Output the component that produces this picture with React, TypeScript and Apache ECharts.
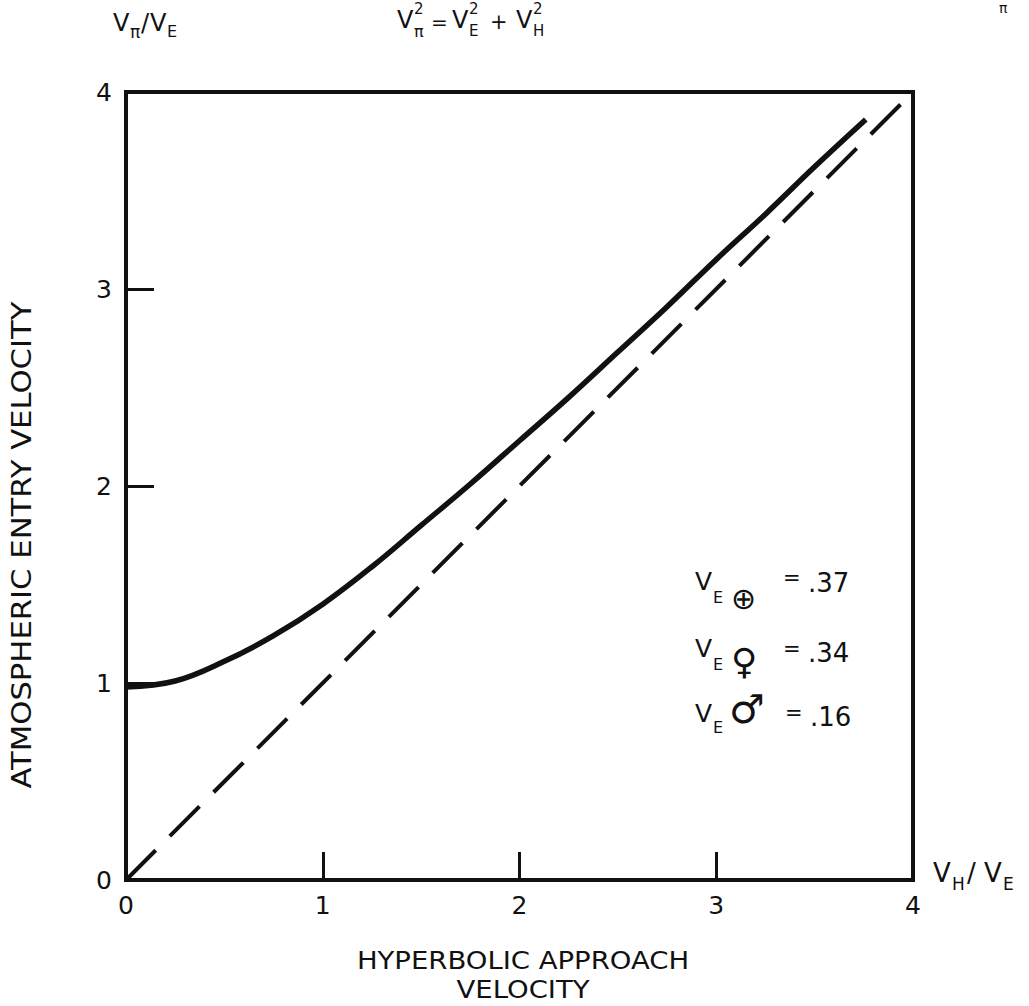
import React, { useEffect, useRef } from "react";
import * as echarts from "echarts";

// Values
const tickValues = [0, 1, 2, 3, 4];
const entryX = [0, 0.25, 0.5, 0.75, 1, 1.25, 1.5, 1.75, 2, 2.25, 2.5, 2.75, 3, 3.25, 3.5, 3.76];
const entryY = [0.98, 1.01, 1.11, 1.24, 1.4, 1.59, 1.8, 2.01, 2.23, 2.45, 2.68, 2.91, 3.15, 3.38, 3.62, 3.86];
const dashX = [0, 4];
const dashY = [0, 4];
const escapeLabels = ["V", "E", "⊕", "=", ".37", "♀", ".34", "♂", ".16"];

const FONT = "DejaVu Sans";
const INK = "#111";

function T(x: number, y: number, text: string, size: number, extra: any = {}) {
  return {
    type: "text",
    x,
    y,
    silent: true,
    ...(extra.el || {}),
    style: {
      text,
      fontSize: size,
      fontFamily: FONT,
      fill: INK,
      textAlign: extra.align || "left",
      align: extra.align || "left",
      textVerticalAlign: "middle",
      verticalAlign: "middle",
      ...(extra.style || {}),
    },
  };
}

export default function App() {
  const ref = useRef<HTMLDivElement>(null);
  useEffect(() => {
    document.body.style.margin = "0";
    const chart = echarts.init(ref.current!, undefined, { renderer: "svg" });
    const solid = entryX.map((x, i) => [x, entryY[i]]);
    const dashed = dashX.map((x, i) => [x, dashY[i]]);
    const axisCommon = {
      type: "value",
      min: 0,
      max: 4,
      interval: 1,
      splitLine: { show: false },
      axisLine: { show: true, lineStyle: { color: INK, width: 4 } },
      axisTick: { show: true, inside: true, length: 28, lineStyle: { color: INK, width: 3 } },
      axisLabel: {
        color: INK,
        fontSize: 25,
        fontFamily: FONT,
        formatter: (v: number) => (tickValues.indexOf(v) >= 0 ? String(v) : ""),
      },
    };
    const [V, E, EARTH, EQ, N37, VENUS, N34, MARS, N16] = escapeLabels;
    chart.setOption({
      animation: false,
      backgroundColor: "#fff",
      grid: {
        left: 126,
        top: 92,
        width: 787,
        height: 788,
        show: true,
        borderColor: INK,
        borderWidth: 4,
        backgroundColor: "transparent",
      },
      xAxis: { ...axisCommon, axisLabel: { ...axisCommon.axisLabel, margin: 13 } },
      yAxis: { ...axisCommon, axisLabel: { ...axisCommon.axisLabel, margin: 14 } },
      series: [
        {
          type: "line",
          data: solid,
          smooth: 0.4,
          symbol: "none",
          lineStyle: { color: INK, width: 5.5 },
          z: 3,
        },
        {
          type: "line",
          data: dashed,
          symbol: "none",
          lineStyle: { color: INK, width: 4, type: [42, 20] },
          z: 3,
        },
      ],
      graphic: [
        // top-left axis label  Vπ/VE
        T(113, 23, "V", 24),
        T(130, 32, "π", 17),
        T(141, 23, "/", 24),
        T(150, 23, "V", 24),
        T(167, 31, "E", 16),
        // formula
        T(397, 20, "V", 24),
        T(414, 9, "2", 15),
        T(414, 31, "π", 16),
        T(431, 22, "=", 20),
        T(452, 20, "V", 24),
        T(469, 9, "2", 15),
        T(469, 31, "E", 15),
        T(490, 22, "+", 21),
        T(516, 20, "V", 24),
        T(533, 9, "2", 15),
        T(533, 31, "H", 15),
        // page fragment at the top right
        T(999, 8, "π", 14),
        // right axis label VH/VE
        T(933, 873, "V", 26),
        T(952, 884, "H", 17),
        T(967, 873, "/", 26),
        T(984, 873, "V", 26),
        T(1003, 884, "E", 17),
        // annotations
        T(695, 581, V, 25),
        T(713, 597, E, 16),
        T(731, 598, EARTH, 30),
        T(783, 578, EQ, 21),
        T(808, 583, N37, 26),
        T(695, 648, V, 25),
        T(713, 664, E, 16),
        T(731, 661, VENUS, 36),
        T(783, 649, EQ, 21),
        T(808, 653, N34, 26),
        T(695, 713, V, 25),
        T(713, 727, E, 16),
        T(729, 709, MARS, 40),
        T(785, 713, EQ, 21),
        T(810, 717, N16, 26),
        // axis titles
        T(523, 975, "HYPERBOLIC APPROACH\nVELOCITY", 25, {
          align: "center",
          el: { scaleX: 1.1 },
          style: { lineHeight: 29 },
        }),
        T(22, 545, "ATMOSPHERIC ENTRY VELOCITY", 26, {
          align: "center",
          el: { rotation: Math.PI / 2, scaleX: 1.18 },
        }),
      ],
    });
    return () => chart.dispose();
  }, []);
  return <div ref={ref} style={{ width: 1029, height: 1006 }} />;
}
